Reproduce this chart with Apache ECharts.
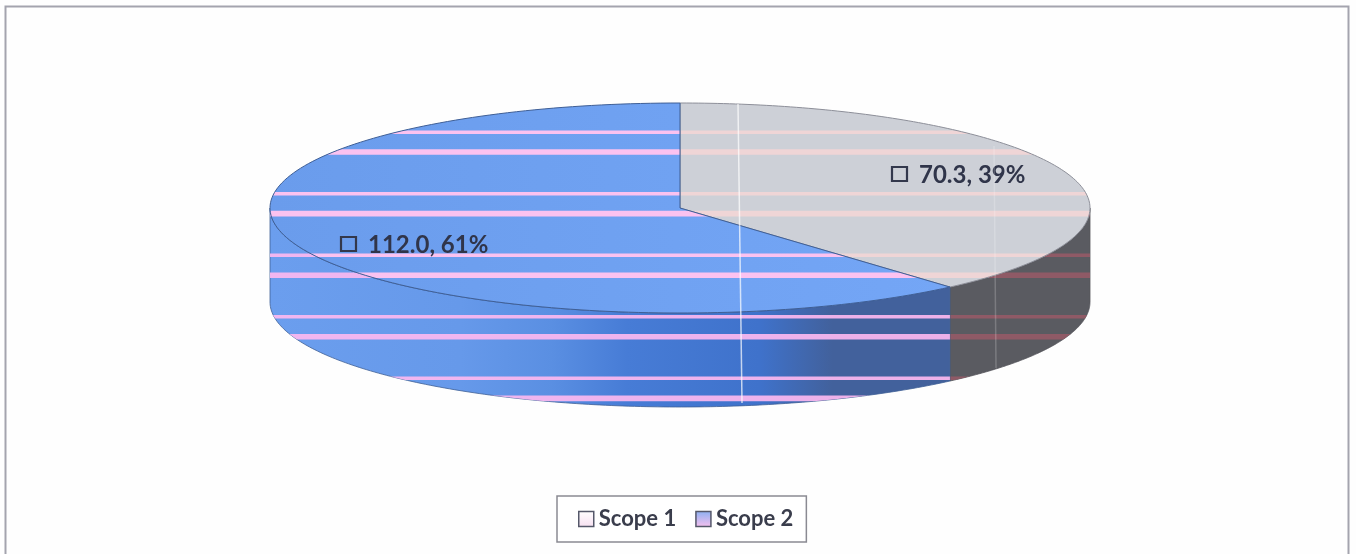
<!DOCTYPE html>
<html>
<head>
<meta charset="utf-8">
<style>
html,body{margin:0;padding:0;background:#fff;overflow:hidden}
#c{width:1356px;height:554px;filter:blur(0.6px)}
</style>
<script src="https://cdn.jsdelivr.net/npm/echarts@6/dist/echarts.min.js"></script>
</head>
<body>
<div id="c"></div>
<script>
const categories = ['Scope 1', 'Scope 2'];
const values = [70.3, 112.0];
const percentLabels = ['39%', '61%'];

const total = values[0] + values[1];
const CX = 680, CY = 208, RX = 410, RY = 105, DEPTH = 94;
const FONT = 'Lato';

function pt(a, dy) {
  return [CX + RX * Math.sin(a), CY - RY * Math.cos(a) + (dy || 0)];
}
function arc(a0, a1, dy) {
  const out = [], n = 160;
  for (let i = 0; i <= n; i++) out.push(pt(a0 + (a1 - a0) * i / n, dy));
  return out;
}
function stripes(color) {
  const list = [];
  for (let k = 0; k < 5; k++) {
    list.push({ type: 'rect', shape: { x: 260, y: 130.4 + 61.5 * k, width: 840, height: 3.6 },
      style: { fill: color }, silent: true });
    list.push({ type: 'rect', shape: { x: 260, y: 149.2 + 61.6 * k, width: 840, height: 5.6 },
      style: { fill: color }, silent: true });
  }
  return list;
}
function sideGradient(index) {
  if (index === 0) return '#5a5b61';
  const s = x => (x - 270) / 820;
  return { type: 'linear', x: 0, y: 0, x2: 1, y2: 0, colorStops: [
    { offset: 0, color: '#6b9eee' },
    { offset: s(500), color: '#6699ea' },
    { offset: s(610), color: '#5a8fe2' },
    { offset: s(700), color: '#477cd6' },
    { offset: s(860), color: '#3f72cb' },
    { offset: s(948), color: '#42619c' },
    { offset: 1, color: '#42619c' }
  ] };
}
const topFill = [
  '#cdd0d7',
  { type: 'linear', x: 0, y: 0, x2: 1, y2: 0, colorStops: [
    { offset: 0, color: '#6a9cec' }, { offset: 1, color: '#74a6f6' } ] }
];
const topStripe = ['#efd5d6', '#fbc2f0'];
const sideStripe = ['#8f5a66', 'rgba(252,184,240,0.92)'];
const topEdge = ['#8d8f99', '#3f5f96'];
const labelAt = [[892, 167], [341, 237]];

function render(index) {
  return function (params, api) {
    const v = api.value(0);
    const before = index === 0 ? 0 : values[0];
    const a0 = before / total * Math.PI * 2;
    const a1 = (before + v) / total * Math.PI * 2;
    const children = [];

    // outer wall: only the part of the rim facing the viewer (90deg..270deg)
    const s0 = Math.max(a0, Math.PI / 2), s1 = Math.min(a1, Math.PI * 1.5);
    if (s1 > s0) {
      const wall = arc(s0, s1, 0).concat(arc(s1, s0, DEPTH));
      children.push({ type: 'polygon', shape: { points: wall },
        style: { fill: sideGradient(index), stroke: index ? '#3f5f96' : '#55565c', lineWidth: 0.8 }, silent: true });
      children.push({ type: 'group', children: stripes(sideStripe[index]),
        clipPath: { type: 'polygon', shape: { points: wall } } });
    }
    // top face
    const face = [[CX, CY]].concat(arc(a0, a1, 0));
    children.push({ type: 'polygon', shape: { points: face },
      style: { fill: topFill[index] }, silent: true });
    children.push({ type: 'group', children: stripes(topStripe[index]),
      clipPath: { type: 'polygon', shape: { points: face } } });
    children.push({ type: 'polygon', shape: { points: face },
      style: { fill: 'none', stroke: topEdge[index], lineWidth: 1 }, silent: true });

    // data label with its legend key
    const p = labelAt[index];
    children.push({ type: 'rect', shape: { x: p[0], y: p[1], width: 15, height: 14 },
      style: { fill: 'none', stroke: '#33384c', lineWidth: 2.2 }, silent: true, z2: 20 });
    children.push({ type: 'text', x: p[0] + 27, y: p[1] + 8, z2: 20, silent: true,
      style: { text: v.toFixed(1) + ', ' + percentLabels[index], fill: '#30354a',
        font: 'bold 24px ' + FONT, textAlign: 'left', textVerticalAlign: 'middle' } });
    return { type: 'group', children: children };
  };
}

const chart = echarts.init(document.getElementById('c'), null, { renderer: 'canvas' });
chart.setOption({
  animation: false,
  backgroundColor: '#fefefe',
  legend: {
    left: 557, top: 496, orient: 'horizontal',
    data: categories,
    icon: 'rect', itemWidth: 15, itemHeight: 15, itemGap: 19,
    padding: [12, 13, 12, 21],
    borderColor: '#8a8a92', borderWidth: 1.5, backgroundColor: '#fff',
    textStyle: { fontFamily: FONT, fontWeight: 'bold', fontSize: 22, color: '#3a3d4c' },
    itemStyle: { borderColor: '#55586a', borderWidth: 1.5 },
    selectedMode: false
  },
  graphic: [
    { type: 'rect', z: -1, silent: true, shape: { x: 5.5, y: 6.5, width: 1343, height: 560 },
      style: { fill: 'none', stroke: '#a4a4ae', lineWidth: 2 } },
    { type: 'line', z: 100, silent: true, shape: { x1: 738, y1: 104, x2: 742, y2: 403 },
      style: { stroke: 'rgba(255,255,255,0.7)', lineWidth: 1.5 } },
    { type: 'line', z: 100, silent: true, shape: { x1: 994, y1: 146, x2: 996, y2: 368 },
      style: { stroke: 'rgba(255,255,255,0.2)', lineWidth: 1.5 } }
  ],
  series: [
    { type: 'custom', name: categories[0], coordinateSystem: 'none', silent: true,
      renderItem: render(0), data: [[values[0]]], z: 2,
      itemStyle: { color: { type: 'linear', x: 0, y: 0, x2: 0, y2: 1, colorStops: [
        { offset: 0, color: '#ffffff' }, { offset: 1, color: '#f6dff0' } ] } } },
    { type: 'custom', name: categories[1], coordinateSystem: 'none', silent: true,
      renderItem: render(1), data: [[values[1]]], z: 3,
      itemStyle: { color: { type: 'linear', x: 0, y: 0, x2: 0, y2: 1, colorStops: [
        { offset: 0, color: '#8bb0f2' }, { offset: 1, color: '#f8c0ee' } ] } } }
  ]
});
</script>
</body>
</html>
